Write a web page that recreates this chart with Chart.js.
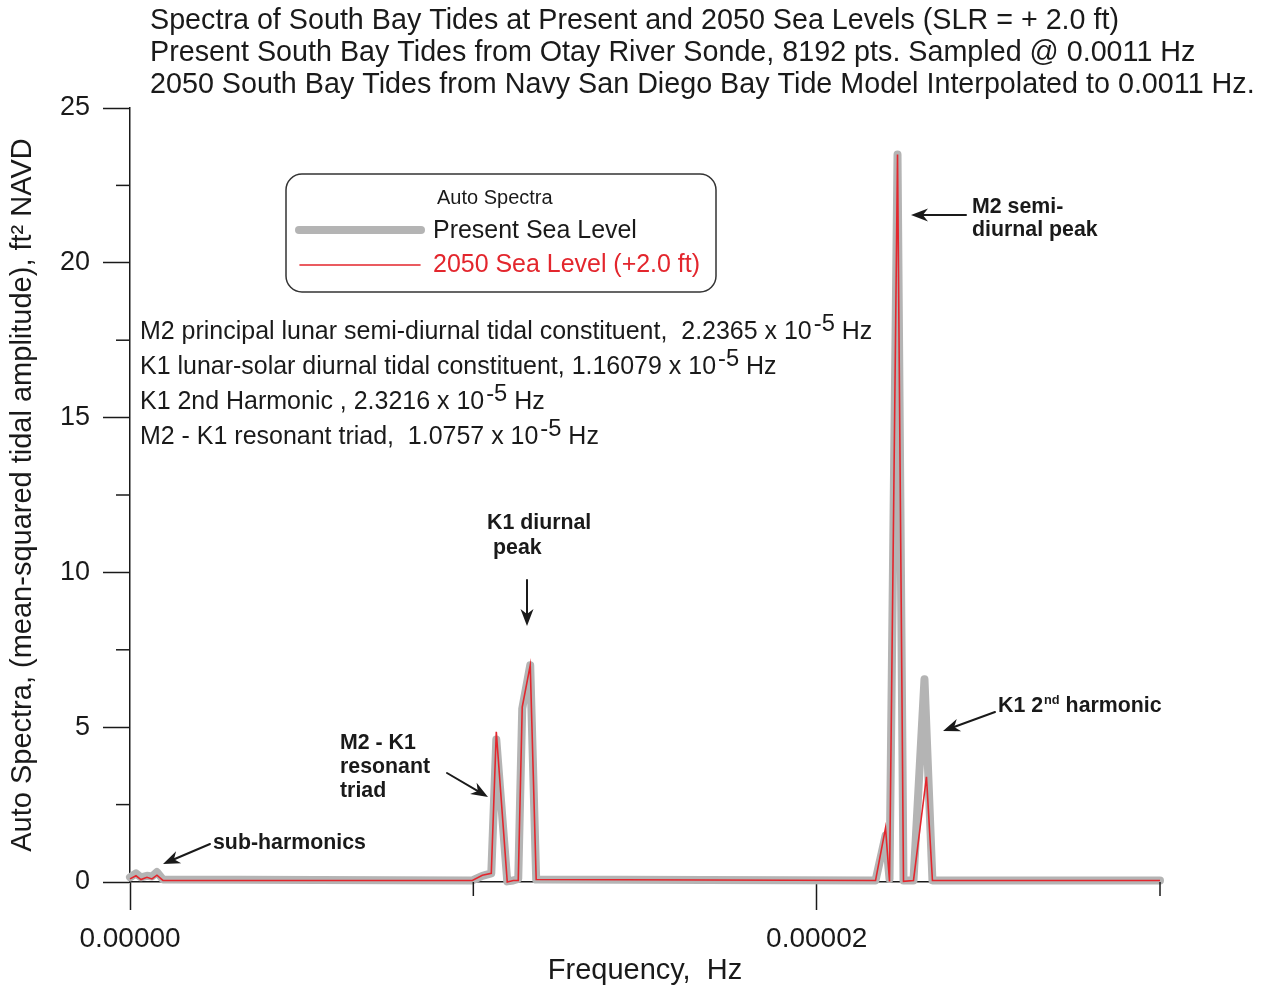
<!DOCTYPE html>
<html><head><meta charset="utf-8">
<script src="https://cdn.jsdelivr.net/npm/chart.js@4/dist/chart.umd.min.js"></script>
<style>html,body{margin:0;padding:0;background:#fff}#wrap{width:1269px;height:987px;position:relative}</style>
</head><body><div id="wrap"><canvas id="c" width="1269" height="987"></canvas></div>
<script>
// ---------- data (frequency in Hz, auto spectra in ft^2) ----------
const presentFreq = [0, 1.744e-7, 3.198e-7, 4.942e-7, 6.395e-7, 7.849e-7, 9.593e-7,
  9.971e-6, 1.0262e-5, 1.0523e-5, 1.0669e-5, 1.0988e-5, 1.1163e-5, 1.1308e-5, 1.1424e-5, 1.1657e-5, 1.1831e-5,
  2.1715e-5, 2.2006e-5, 2.2122e-5, 2.2355e-5, 2.2529e-5, 2.2820e-5, 2.3140e-5, 2.3372e-5, 3.0e-5];
const presentAmp = [0.15, 0.28, 0.15, 0.2, 0.18, 0.32, 0.08,
  0.05, 0.2, 0.28, 4.6, 0.02, 0.05, 0.1, 5.6, 7.0, 0.08,
  0.05, 1.5, 0.1, 23.5, 0.05, 0.05, 6.55, 0.05, 0.05];
const futureFreq = [0, 1.744e-7, 3.198e-7, 4.942e-7, 6.395e-7, 7.849e-7, 9.593e-7,
  9.971e-6, 1.0262e-5, 1.0523e-5, 1.0669e-5, 1.0988e-5, 1.1163e-5, 1.1308e-5, 1.1424e-5, 1.1657e-5, 1.1831e-5,
  2.1715e-5, 2.2006e-5, 2.2122e-5, 2.2355e-5, 2.2529e-5, 2.2820e-5, 2.3198e-5, 2.3372e-5, 3.0e-5];
const futureAmp = [0.1, 0.2, 0.08, 0.15, 0.1, 0.22, 0.05,
  0.05, 0.22, 0.28, 4.85, 0.0, 0.05, 0.05, 5.65, 7.0, 0.08,
  0.05, 1.75, 0.02, 23.5, 0.02, 0.05, 3.4, 0.05, 0.05];
const seriesNames = ['Present Sea Level', '2050 Sea Level (+2.0 ft)'];
const xTickValues = [0, 2e-5];
const xTickLabels = ['0.00000', '0.00002'];
const xMinorTicks = [1e-5, 3e-5];
const yMinorTicks = [2.5, 7.5, 12.5, 17.5, 22.5];
const headerLines = [
  'Spectra of South Bay Tides at Present and 2050 Sea Levels (SLR = + 2.0 ft)',
  'Present South Bay Tides from Otay River Sonde, 8192 pts. Sampled @ 0.0011 Hz',
  '2050 South Bay Tides from Navy San Diego Bay Tide Model Interpolated to 0.0011 Hz.'
];
const constituentLines = [
  ['M2 principal lunar semi-diurnal tidal constituent,  2.2365 x 10', '-5', ' Hz'],
  ['K1 lunar-solar diurnal tidal constituent, 1.16079 x 10', '-5', ' Hz'],
  ['K1 2nd Harmonic , 2.3216 x 10', '-5', ' Hz'],
  ['M2 - K1 resonant triad,  1.0757 x 10', '-5', ' Hz']
];

const FONT = '"Liberation Sans", Arial, Helvetica, sans-serif';
const INK = '#1a1a1a';
const GREY = '#b4b4b4';
const RED = '#e3262d';

function pts(xs, ys) { return xs.map((x, i) => ({x: x, y: ys[i]})); }
function fitSize(ctx, text, width, weight) {
  ctx.font = weight + ' 100px ' + FONT;
  return 100 * width / ctx.measureText(text).width;
}
function arrow(ctx, x1, y1, x2, y2) {
  const a = Math.atan2(y2 - y1, x2 - x1), c = Math.cos(a), s = Math.sin(a);
  const L = 17, W = 6.5;
  ctx.save();
  ctx.strokeStyle = INK; ctx.fillStyle = INK; ctx.lineWidth = 2;
  ctx.beginPath(); ctx.moveTo(x1, y1); ctx.lineTo(x2 - c * L * 0.6, y2 - s * L * 0.6); ctx.stroke();
  const bx = x2 - c * L, by = y2 - s * L, nx = -s, ny = c;
  ctx.beginPath();
  ctx.moveTo(x2, y2);
  ctx.lineTo(bx + nx * W, by + ny * W);
  ctx.lineTo(x2 - c * L * 0.7, y2 - s * L * 0.7);
  ctx.lineTo(bx - nx * W, by - ny * W);
  ctx.closePath(); ctx.fill();
  ctx.restore();
}

const decor = {
  id: 'decor',
  afterDraw(chart) {
    const ctx = chart.ctx;
    const xs = chart.scales.x, ys = chart.scales.y;
    ctx.save();
    // minor ticks
    ctx.strokeStyle = INK; ctx.lineWidth = 1.5;
    xMinorTicks.forEach(v => { const px = xs.getPixelForValue(v); ctx.beginPath(); ctx.moveTo(px, ys.bottom); ctx.lineTo(px, ys.bottom + 14); ctx.stroke(); });
    yMinorTicks.forEach(v => { const py = ys.getPixelForValue(v); ctx.beginPath(); ctx.moveTo(xs.left - 14, py); ctx.lineTo(xs.left, py); ctx.stroke(); });

    // header
    ctx.fillStyle = INK; ctx.textBaseline = 'middle'; ctx.textAlign = 'left';
    const hs = fitSize(ctx, headerLines[2], 1105, 'normal');
    ctx.font = 'normal ' + hs + 'px ' + FONT;
    headerLines.forEach((t, i) => ctx.fillText(t, 150, 21 + i * 32));

    // legend box
    ctx.strokeStyle = '#333'; ctx.lineWidth = 1.5;
    ctx.beginPath(); ctx.roundRect(286, 174, 430, 118, 16); ctx.stroke();
    ctx.font = 'normal 20px ' + FONT; ctx.fillStyle = INK;
    ctx.fillText('Auto Spectra', 437, 198);
    const dsP = chart.data.datasets[1], dsF = chart.data.datasets[0];
    ctx.lineCap = 'round';
    ctx.strokeStyle = dsP.borderColor; ctx.lineWidth = dsP.borderWidth;
    ctx.beginPath(); ctx.moveTo(299, 230); ctx.lineTo(421, 230); ctx.stroke();
    ctx.strokeStyle = dsF.borderColor; ctx.lineWidth = dsF.borderWidth;
    ctx.beginPath(); ctx.moveTo(300, 265); ctx.lineTo(420, 265); ctx.stroke();
    const ls = fitSize(ctx, seriesNames[0], 204, 'normal');
    ctx.font = 'normal ' + ls + 'px ' + FONT;
    ctx.fillStyle = INK; ctx.fillText(seriesNames[0], 433, 231);
    ctx.fillStyle = RED; ctx.fillText(seriesNames[1], 433, 265);

    // constituent lines
    ctx.fillStyle = INK;
    const cs = fitSize(ctx, constituentLines[0][0], 672, 'normal');
    constituentLines.forEach((parts, i) => {
      const y = 332 + i * 35;
      ctx.font = 'normal ' + cs + 'px ' + FONT;
      ctx.fillText(parts[0], 140, y);
      let x = 140 + ctx.measureText(parts[0]).width + 2;
      ctx.font = 'normal ' + (cs * 0.95) + 'px ' + FONT;
      ctx.fillText(parts[1], x, y - 8);
      x += ctx.measureText(parts[1]).width;
      ctx.font = 'normal ' + cs + 'px ' + FONT;
      ctx.fillText(parts[2], x, y);
    });

    // bold labels
    const bs = fitSize(ctx, 'sub-harmonics', 153, 'bold');
    ctx.font = 'bold ' + bs + 'px ' + FONT;
    ctx.fillText('K1 diurnal', 487, 523);
    ctx.fillText('peak', 493, 548);
    ctx.fillText('M2 semi-', 972, 207);
    ctx.fillText('diurnal peak', 972, 230);
    ctx.fillText('M2 - K1', 340, 743);
    ctx.fillText('resonant', 340, 767);
    ctx.fillText('triad', 340, 791);
    ctx.fillText('sub-harmonics', 213, 843);
    let kx = 998;
    ctx.fillText('K1 2', kx, 706); kx += ctx.measureText('K1 2').width + 1;
    ctx.font = 'bold ' + (bs * 0.6) + 'px ' + FONT;
    ctx.fillText('nd', kx, 700); kx += ctx.measureText('nd').width;
    ctx.font = 'bold ' + bs + 'px ' + FONT;
    ctx.fillText(' harmonic', kx, 706);

    // arrows
    arrow(ctx, 210, 844, 163, 864);
    arrow(ctx, 447, 773, 488, 797);
    arrow(ctx, 527, 580, 527, 626);
    arrow(ctx, 966, 215, 911, 215);
    arrow(ctx, 995, 712, 943, 731);
    ctx.restore();
  }
};

new Chart(document.getElementById('c'), {
  type: 'scatter',
  data: {
    datasets: [
      {label: seriesNames[1], data: pts(futureFreq, futureAmp), showLine: true, borderColor: RED, backgroundColor: RED,
       borderWidth: 1.6, pointRadius: 0, tension: 0, clip: false, order: 0},
      {label: seriesNames[0], data: pts(presentFreq, presentAmp), showLine: true, borderColor: GREY, backgroundColor: GREY,
       borderWidth: 8, borderCapStyle: 'round', borderJoinStyle: 'round', pointRadius: 0, tension: 0, clip: false, order: 1}
    ]
  },
  options: {
    responsive: false, animation: false, devicePixelRatio: 1,
    layout: {padding: {top: 108, right: 109, bottom: 0, left: 0}},
    plugins: {legend: {display: false}, tooltip: {enabled: false}, title: {display: false}},
    scales: {
      x: {
        type: 'linear', min: 0, max: 3e-5,
        afterFit: s => { s.height = 105; },
        border: {display: true, color: INK, width: 1.5},
        grid: {display: true, drawOnChartArea: false, drawTicks: true, tickLength: 28, tickWidth: 1.5,
               tickColor: c => xTickValues.some(v => Math.abs(v - c.tick.value) < 1e-9) ? INK : 'rgba(0,0,0,0)'},
        ticks: {stepSize: 1e-5, autoSkip: false, maxRotation: 0, padding: 12, color: INK,
                font: {family: FONT, size: 28},
                callback: v => { const i = xTickValues.findIndex(t => Math.abs(t - v) < 1e-9); return i >= 0 ? xTickLabels[i] : ''; }},
        title: {display: true, text: 'Frequency,  Hz', color: INK, font: {family: FONT, size: 29, lineHeight: 1}, padding: {top: 0, bottom: 2}}
      },
      y: {
        min: 0, max: 25,
        afterFit: s => { s.width = 130; },
        border: {display: true, color: INK, width: 1.5},
        grid: {display: true, drawOnChartArea: false, drawTicks: true, tickLength: 27, tickWidth: 1.5, tickColor: INK},
        ticks: {stepSize: 5, padding: 13, color: INK, font: {family: FONT, size: 27}},
        title: {display: true, text: 'Auto Spectra, (mean-squared tidal amplitude), ft\u00B2 NAVD', color: INK,
                font: {family: FONT, size: 29, lineHeight: 1}, padding: {top: 8, bottom: 0}}
      }
    }
  },
  plugins: [decor]
});
</script>
</body></html>
